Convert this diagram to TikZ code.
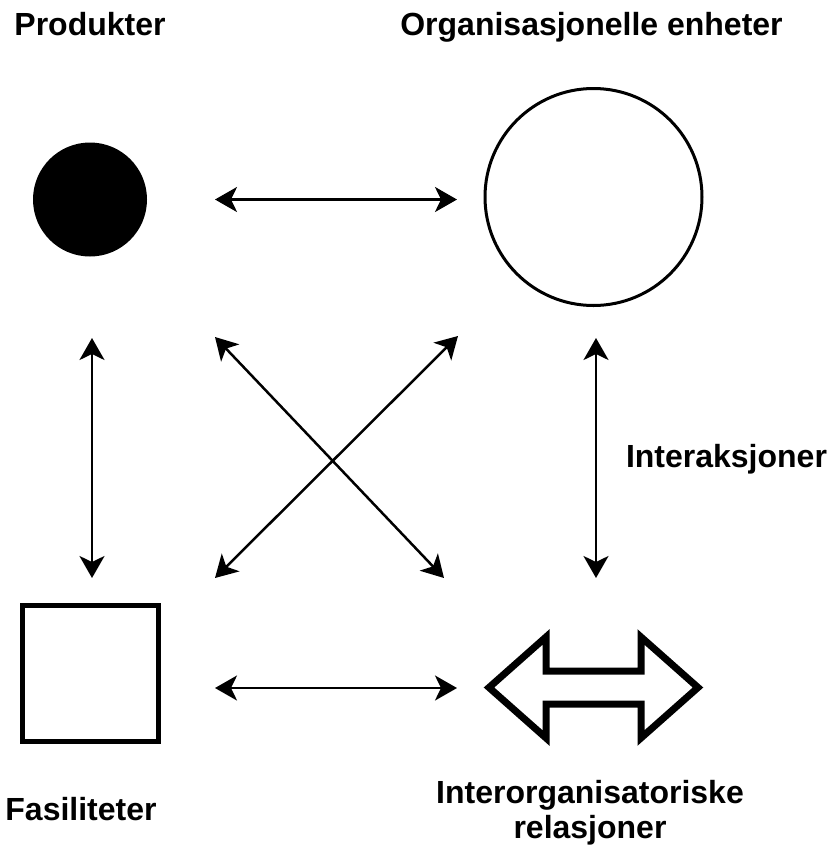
\documentclass[tikz,border=0pt]{standalone}
\usepackage{fontspec}
\setmainfont{Liberation Sans}
\usetikzlibrary{arrows.meta}
\begin{document}
\begin{tikzpicture}[x=1pt,y=-1pt]
		\tikzset{txt/.style = {font=\bfseries\fontsize{32}{38}\selectfont, inner sep=0pt, anchor=base}}
		\tikzset{edge/.style = {{Stealth[length=22pt,width=25pt,inset=6pt]}-{Stealth[length=22pt,width=25pt,inset=6pt]}, line width=2.5pt}}
		
		\useasboundingbox (0,0) rectangle (833,847);
		
		\node[circle, fill, inner sep=0pt, minimum size=114pt]                 (1) at (  90, 199.5) {};
		\node[circle, draw, line width=3pt, inner sep=0pt, minimum size=217pt] (2) at (593.5, 197) {};
		\node[rectangle, draw, line width=5pt, inner sep=0pt, minimum size=136pt] (3) at (90.5, 673) {};
		\coordinate (4) at (593.5, 687.5);
		\draw[line width=7pt] (489,687.5) -- (546,637) -- (546,671) -- (641,671) -- (641,637)
			-- (698,687.5) -- (641,738) -- (641,704) -- (546,704) -- (546,738) -- cycle;
		
		\node[txt]  (5) at (  90,   35) {Produkter};
		\node[txt]  (6) at (591.5,  35) {Organisasjonelle enheter};
		\node[txt]  (7) at (726.5, 467) {Interaksjoner};
		\node[txt]  (8) at (  81,  820) {Fasiliteter};
		\node[txt]  (9) at ( 590,  803) {Interorganisatoriske};
		\node[txt] (10) at ( 590,  838) {relasjoner};
		
		\coordinate  (1e) at (215, 199.5);
		\coordinate  (2w) at (457, 199.5);
		\coordinate  (3e) at (215, 688);
		\coordinate  (4w) at (457, 688);
		\coordinate  (1s) at ( 92, 338);
		\coordinate  (3n) at ( 92, 578);
		\coordinate  (2s) at (596, 338);
		\coordinate  (4n) at (596, 578);
		\coordinate (1se) at (215, 337);
		\coordinate (4nw) at (444, 578);
		\coordinate (2sw) at (458, 336);
		\coordinate (3ne) at (215, 578);
		
		\draw[edge]  (1e) to  (2w);
		\draw[edge]  (3e) to  (4w);
		\draw[edge]  (1s) to  (3n);
		\draw[edge]  (2s) to  (4n);
		\draw[edge] (1se) to (4nw);
		\draw[edge] (2sw) to (3ne);
\end{tikzpicture}
\end{document}
